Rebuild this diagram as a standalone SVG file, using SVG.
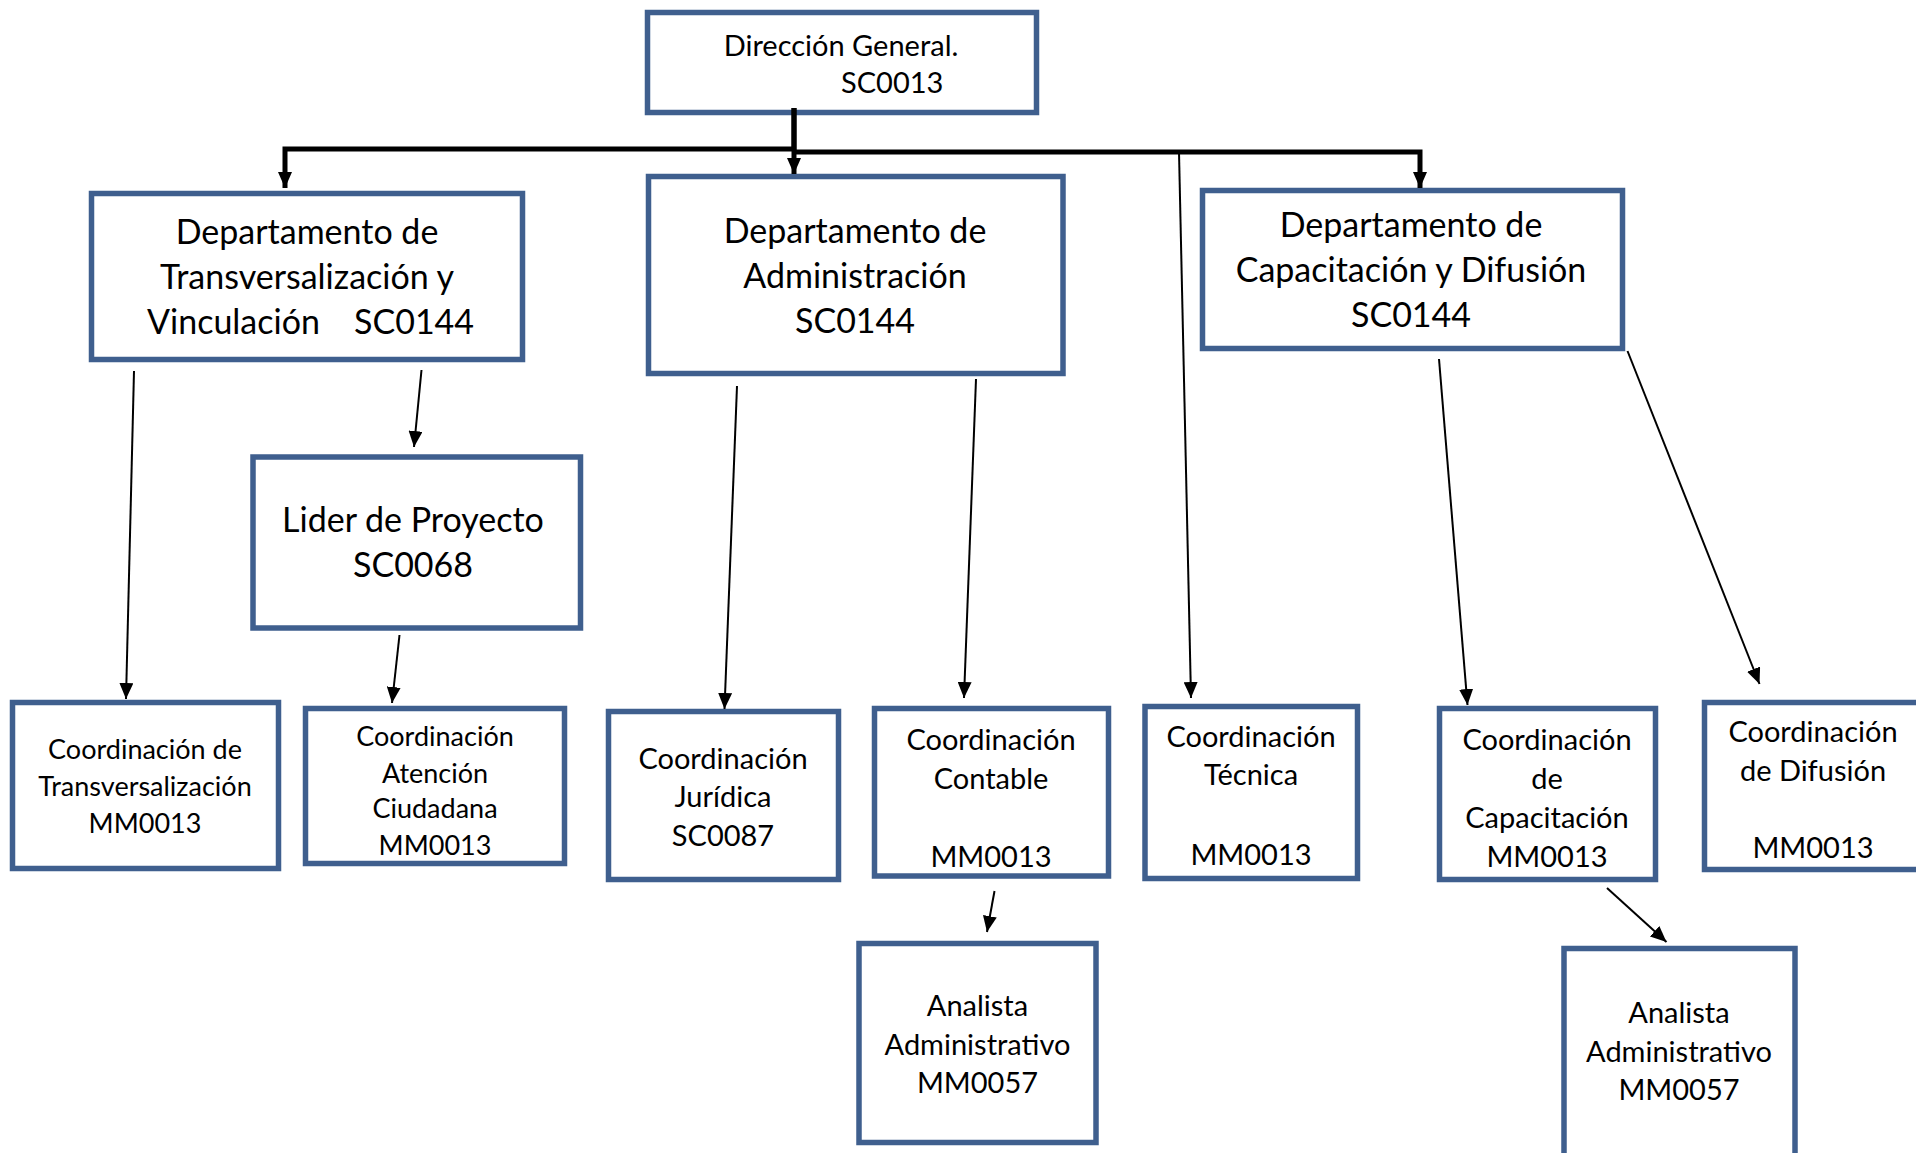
<svg xmlns="http://www.w3.org/2000/svg" width="1916" height="1153" viewBox="0 0 1916 1153">
<style>
.box{fill:#fff;stroke:#3F5F8E;stroke-width:5.5}
.t{font-family:Lato,"Open Sans",sans-serif;fill:#000;text-anchor:middle}
.lg{font-size:34px}
.md{font-size:29px}
.sm{font-size:27px}
.thin{stroke:#000;stroke-width:2;fill:none}
.thick{stroke:#000;stroke-width:5;fill:none}
</style>
<defs>
<marker id="ah" viewBox="0 0 16 14" refX="16" refY="7" markerWidth="16" markerHeight="14" markerUnits="userSpaceOnUse" orient="auto">
<path d="M0,0 L16,7 L0,14 z" fill="#000"/>
</marker>
</defs>
<rect width="1916" height="1153" fill="#fff"/>

<g id="n-dg">
<rect class="box" x="647.5" y="12.5" width="389" height="100"/>
<text class="t md" x="841" y="56">Dirección General.</text>
<text class="t md" x="841" y="93" style="text-anchor:start">SC0013</text>
</g>

<g id="n-dept-trans">
<rect class="box" x="91.5" y="193.5" width="431" height="166"/>
<text class="t lg" x="307" y="244">Departamento de</text>
<text class="t lg" x="307" y="289">Transversalización y</text>
<text class="t lg" x="147" y="334" style="text-anchor:start">Vinculación</text>
<text class="t lg" x="354" y="334" style="text-anchor:start">SC0144</text>
</g>

<g id="n-dept-admin">
<rect class="box" x="648.5" y="176.5" width="414.5" height="197"/>
<text class="t lg" x="855" y="243">Departamento de</text>
<text class="t lg" x="855" y="288">Administración</text>
<text class="t lg" x="855" y="333">SC0144</text>
</g>

<g id="n-dept-cap">
<rect class="box" x="1202.5" y="190.5" width="420" height="158"/>
<text class="t lg" x="1411" y="237">Departamento de</text>
<text class="t lg" x="1411" y="282">Capacitación y Difusión</text>
<text class="t lg" x="1411" y="327">SC0144</text>
</g>

<g id="n-lider">
<rect class="box" x="253" y="457" width="327.5" height="171"/>
<text class="t lg" x="413" y="532">Lider de Proyecto</text>
<text class="t lg" x="413" y="577">SC0068</text>
</g>

<g id="n-coord-trans">
<rect class="box" x="12.5" y="702.5" width="266" height="166"/>
<text class="t sm" x="145" y="759">Coordinación de</text>
<text class="t sm" x="145" y="796">Transversalización</text>
<text class="t sm" x="145" y="833">MM0013</text>
</g>

<g id="n-coord-atencion">
<rect class="box" x="305.5" y="708.5" width="259" height="155"/>
<text class="t sm" x="435" y="746">Coordinación</text>
<text class="t sm" x="435" y="783">Atención</text>
<text class="t sm" x="435" y="818">Ciudadana</text>
<text class="t sm" x="435" y="855">MM0013</text>
</g>

<g id="n-coord-juridica">
<rect class="box" x="608.5" y="711.5" width="230" height="168"/>
<text class="t md" x="723" y="769">Coordinación</text>
<text class="t md" x="723" y="807">Jurídica</text>
<text class="t md" x="723" y="846">SC0087</text>
</g>

<g id="n-coord-contable">
<rect class="box" x="874.5" y="708.5" width="234" height="167.5"/>
<text class="t md" x="991" y="750">Coordinación</text>
<text class="t md" x="991" y="789">Contable</text>
<text class="t md" x="991" y="867">MM0013</text>
</g>

<g id="n-analista-1">
<rect class="box" x="859" y="943.5" width="237" height="199"/>
<text class="t md" x="977.5" y="1016">Analista</text>
<text class="t md" x="977.5" y="1055">Administrativo</text>
<text class="t md" x="977.5" y="1093">MM0057</text>
</g>

<g id="n-coord-tecnica">
<rect class="box" x="1145" y="706.5" width="212.5" height="172"/>
<text class="t md" x="1251" y="747">Coordinación</text>
<text class="t md" x="1251" y="785">Técnica</text>
<text class="t md" x="1251" y="865">MM0013</text>
</g>

<g id="n-coord-cap">
<rect class="box" x="1439.5" y="708.5" width="216" height="171"/>
<text class="t md" x="1547" y="750">Coordinación</text>
<text class="t md" x="1547" y="789">de</text>
<text class="t md" x="1547" y="828">Capacitación</text>
<text class="t md" x="1547" y="867">MM0013</text>
</g>

<g id="n-coord-difusion">
<rect class="box" x="1704.5" y="702.5" width="240" height="167"/>
<text class="t md" x="1813" y="742">Coordinación</text>
<text class="t md" x="1813" y="781">de Difusión</text>
<text class="t md" x="1813" y="858">MM0013</text>
</g>

<g id="n-analista-2">
<rect class="box" x="1564" y="948.5" width="231" height="240"/>
<text class="t md" x="1679" y="1023">Analista</text>
<text class="t md" x="1679" y="1062">Administrativo</text>
<text class="t md" x="1679" y="1100">MM0057</text>
</g>

<g id="connectors">
<polyline class="thick" points="794,108 794,149 285,149 285,188" marker-end="url(#ah)"/>
<line class="thick" x1="794" y1="108" x2="794" y2="174" marker-end="url(#ah)"/>
<polyline class="thick" points="794,152 1420,152 1420,188" marker-end="url(#ah)"/>
<line class="thin" x1="1179" y1="152" x2="1191" y2="698" marker-end="url(#ah)"/>
<line class="thin" x1="134" y1="371" x2="126" y2="699" marker-end="url(#ah)"/>
<line class="thin" x1="421.5" y1="370" x2="414" y2="447" marker-end="url(#ah)"/>
<line class="thin" x1="399.5" y1="635" x2="392" y2="703" marker-end="url(#ah)"/>
<line class="thin" x1="737" y1="386" x2="724.5" y2="709" marker-end="url(#ah)"/>
<line class="thin" x1="976" y1="379" x2="964" y2="698" marker-end="url(#ah)"/>
<line class="thin" x1="994.5" y1="891" x2="987" y2="932" marker-end="url(#ah)"/>
<line class="thin" x1="1439" y1="359" x2="1467.5" y2="705" marker-end="url(#ah)"/>
<line class="thin" x1="1627.5" y1="351" x2="1759.5" y2="684" marker-end="url(#ah)"/>
<line class="thin" x1="1607" y1="888" x2="1666.5" y2="942" marker-end="url(#ah)"/>
</g>
</svg>
